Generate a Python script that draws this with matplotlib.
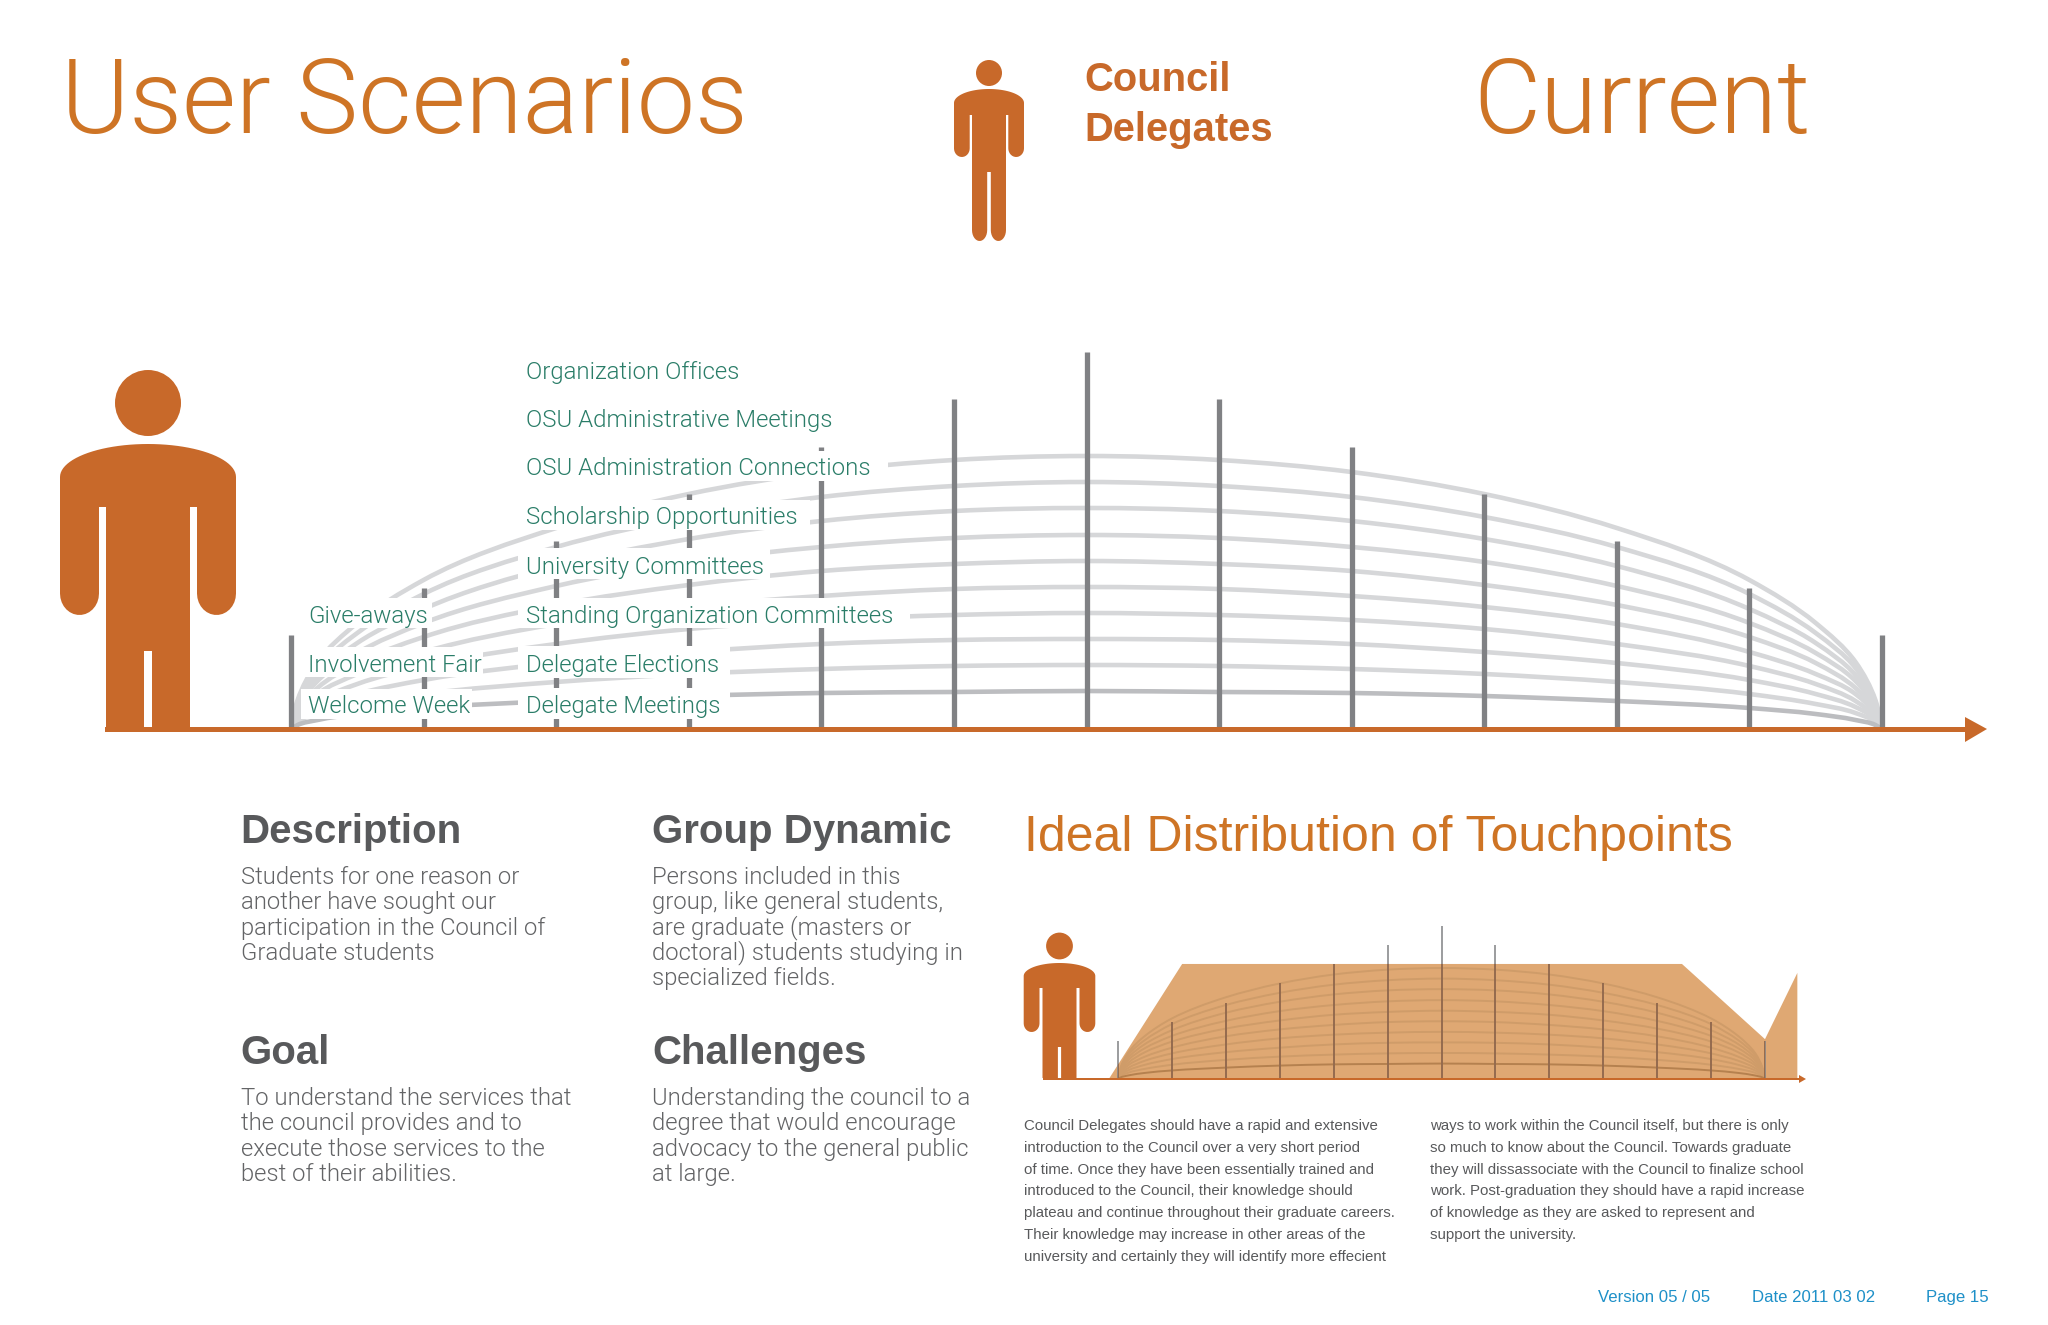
import matplotlib
matplotlib.use('Agg')
import matplotlib.pyplot as plt
import numpy as np
from matplotlib.path import Path
from matplotlib.patches import PathPatch, Polygon, Rectangle

# --- Data ---
# touchpoints 0..12, tick heights
touch_idx = list(range(13))
touch_heights = [94, 141, 188, 235, 282, 330, 377, 330, 282, 235, 188, 141, 94]

# knowledge arcs, centre (touchpoint 6) out to the right end, left side is the mirror
arc_pos = [6, 7, 8, 9, 10, 11, 11.5, 11.8, 11.95, 12]
arc_01 = [273, 269, 257, 235, 201, 149, 106, 67, 29, 0]
arc_02 = [247, 243, 232, 212, 182, 135, 96, 61, 26, 0]
arc_03 = [221, 218, 208, 190, 163, 120, 86, 54, 23, 0]
arc_04 = [194, 191, 182, 167, 143, 106, 76, 48, 21, 0]
arc_05 = [168, 165, 158, 144, 124, 92, 66, 41, 18, 0]
arc_06 = [142, 140, 133, 122, 105, 77, 55, 35, 15, 0]
arc_07 = [116, 114, 109, 100, 85, 63, 45, 28, 12, 0]
arc_08 = [90, 89, 85, 77, 66, 49, 35, 22, 10, 0]
arc_09 = [64, 63, 60, 55, 47, 35, 25, 16, 7, 0]
arc_10 = [38, 37, 36, 33, 28, 21, 15, 9, 4, 0]
arcs = [arc_01, arc_02, arc_03, arc_04, arc_05, arc_06, arc_07, arc_08, arc_09, arc_10]

# ideal distribution outline in the small chart
ideal_x = [-0.17, 1.19, 10.46, 12, 12.6, 12.6]
ideal_h = [0, 283, 283, 98, 261, 0]

left_labels = ['Give-aways', 'Involvement Fair', 'Welcome Week']
right_labels = ['Organization Offices', 'OSU Administrative Meetings',
                'OSU Administration Connections', 'Scholarship Opportunities',
                'University Committees', 'Standing Organization Committees',
                'Delegate Elections', 'Delegate Meetings']

description = ['Students for one reason or', 'another have sought our',
               'participation in the Council of', 'Graduate students']
group_dynamic = ['Persons included in this', 'group, like general students,',
                 'are graduate (masters or', 'doctoral) students studying in',
                 'specialized fields.']
goal = ['To understand the services that', 'the council provides and to',
        'execute those services to the', 'best of their abilities.']
challenges = ['Understanding the council to a', 'degree that would encourage',
              'advocacy to the general public', 'at large.']
para_left = ['Council Delegates should have a rapid and extensive',
             'introduction to the Council over a very short period',
             'of time. Once they have been essentially trained and',
             'introduced to the Council, their knowledge should',
             'plateau and continue throughout their graduate careers.',
             'Their knowledge may increase in other areas of the',
             'university and certainly they will identify more effecient']
para_right = ['ways to work within the Council itself, but there is only',
              'so much to know about the Council. Towards graduate',
              'they will dissassociate with the Council to finalize school',
              'work. Post-graduation they should have a rapid increase',
              'of knowledge as they are asked to represent and',
              'support the university.']

# --- Style ---
ORANGE = '#C8692A'
TITLE = '#CE7425'
GREEN = '#2A7D68'
DARK = '#58595B'
BODY = '#636466'
BLUE = '#1E90C8'
TICK = '#808184'
ARC = '#D6D7D9'
ARC_LOW = '#BCBDC0'
LIGHT = 'Roboto'
REG = 'Liberation Sans'

W, H = 2048, 1325
fig = plt.figure(figsize=(W / 100, H / 100), dpi=100, facecolor='white')


def chart_axes(x0, x1, base, px_per_unit):
    # axes with x = touchpoint index and y = height, placed by pixel box
    top = base - 400 * px_per_unit
    a = fig.add_axes([x0 / W, 1 - base / H, (x1 - x0) / W, (base - top) / H], zorder=1)
    a.set_xlim(0, 12)
    a.set_ylim(0, 400)
    a.axis('off')
    return a


def smooth_path(xs, ys, sx):
    # bezier through the read points (chord length catmull-rom)
    p = np.column_stack([np.array(xs) * sx, ys], )
    t = np.r_[0, np.cumsum(np.hypot(*np.diff(p, axis=0).T))]
    m = np.gradient(p, t, axis=0)
    verts = [p[0]]
    codes = [Path.MOVETO]
    for i in range(len(p) - 1):
        d = (t[i + 1] - t[i]) / 3
        verts += [p[i] + m[i] * d, p[i + 1] - m[i + 1] * d, p[i + 1]]
        codes += [Path.CURVE4] * 3
    verts = np.array(verts)
    verts[:, 0] /= sx
    return Path(verts, codes)


def draw_arcs(a, lw, color, low_color, sx):
    for n, h in enumerate(arcs):
        xs = [12 - q for q in arc_pos[::-1]] + arc_pos[1:]
        ys = h[::-1] + h[1:]
        col = low_color if n == len(arcs) - 1 else color
        a.add_patch(PathPatch(smooth_path(xs, ys, sx), fill=False, ec=col, lw=lw,
                              capstyle='butt', clip_on=False, zorder=2))


def draw_person(a, cx, head_y, head_r, sh_top, sh_y, half_w, torso, arm_w, gap_top,
                arm_bot, leg_gap, leg_top, base, leg_round=0):
    a.add_patch(plt.Circle((cx, head_y), head_r, fc=ORANGE, ec='none', zorder=4))
    th = np.linspace(np.pi / 2, 0, 24)
    pts = [(half_w * np.cos(q), sh_y - (sh_y - sh_top) * np.sin(q)) for q in th]
    r = arm_w / 2
    th = np.linspace(0, np.pi, 16)
    pts += [(half_w - r + r * np.cos(q), arm_bot - r * 1.1 + r * 1.1 * np.sin(q)) for q in th]
    pts += [(half_w - arm_w, gap_top), (torso, gap_top)]
    if leg_round:
        lr = (torso - leg_gap) / 2
        pts += [(leg_gap + lr + lr * np.cos(q), base - leg_round + leg_round * np.sin(q)) for q in th]
    else:
        pts += [(torso, base), (leg_gap, base)]
    pts += [(leg_gap, leg_top), (0, leg_top)]
    right = np.array(pts)
    left = right[::-1] * [-1, 1]
    a.add_patch(Polygon(np.vstack([right, left]) + [cx, 0], closed=True, fc=ORANGE, ec='none', zorder=4))


# --- Main chart ---
main = chart_axes(291, 1882, 729, 1.0)
sx_main = 132.6
draw_arcs(main, 3.3, ARC, ARC_LOW, sx_main)
main.vlines(touch_idx, 0, touch_heights, color=TICK, lw=3.8, zorder=3, clip_on=False)

# --- Small chart ---
small = chart_axes(1118, 1765, 1079, 0.4065)
tan = Polygon(np.column_stack([ideal_x, ideal_h]), closed=True, fc='#DFA873', ec='none',
              clip_on=False, zorder=1)
small.add_patch(tan)
draw_arcs(small, 1.4, '#CF9C69', '#B5814F', 53.9)
small.vlines(touch_idx, 0, touch_heights, color=TICK, lw=1.1, zorder=3, clip_on=False)
inner = small.vlines(touch_idx, 0, touch_heights, color='#96694A', lw=1.3, zorder=3.5)
inner.set_clip_path(tan)

# --- Overlay in picture pixels: masks, axis lines, figures and text ---
ax = fig.add_axes([0, 0, 1, 1], zorder=2)
ax.set_xlim(0, W)
ax.set_ylim(H, 0)
ax.axis('off')
ax.patch.set_alpha(0)

masks = [(518, 451, 888, 481), (518, 500, 810, 530), (518, 548, 770, 579),
         (518, 598, 910, 628), (518, 646, 730, 678), (518, 688, 730, 719),
         (300, 598, 432, 628), (300, 647, 483, 677), (301, 689, 472, 719)]
for x0, y0, x1, y1 in masks:
    ax.add_patch(Rectangle((x0, y0), x1 - x0, y1 - y0, fc='white', ec='none', zorder=1))

ax.add_patch(Rectangle((105, 726.5), 1860, 5, fc=ORANGE, ec='none', zorder=2))
ax.add_patch(Polygon([(1965, 717), (1965, 742), (1987, 729)], fc=ORANGE, ec='none', zorder=2))
ax.add_patch(Rectangle((1043, 1078), 756, 2, fc=ORANGE, ec='none', zorder=2))
ax.add_patch(Polygon([(1799, 1075), (1799, 1083), (1806, 1079)], fc=ORANGE, ec='none', zorder=2))

draw_person(ax, 148, 403, 33, 444, 477, 88, 42, 39, 507, 615, 4, 651, 727)
draw_person(ax, 1059.5, 946, 13.4, 963, 976, 35.8, 17, 15.8, 988, 1032, 1.6, 1047, 1078)
draw_person(ax, 989, 73, 13, 89, 103, 35, 17, 15.7, 115, 157, 1.8, 172, 241, leg_round=11)


def put(x, y, s, size, color, family=LIGHT, weight=300):
    ax.text(x, y, s, fontsize=size, color=color, family=family, weight=weight,
            ha='left', va='baseline', zorder=5)


put(61, 133, 'User Scenarios', 75, TITLE)
put(1473, 133, 'Current', 74.5, TITLE)
put(1084, 91, 'Council', 28.8, ORANGE, REG, 'bold')
put(1084, 141, 'Delegates', 28.8, ORANGE, REG, 'bold')
put(1024, 851, 'Ideal Distribution of Touchpoints', 36, TITLE, REG, 'normal')

for s, y in zip(left_labels, [623, 672, 713]):
    put(308, y, s, 17.3, GREEN)
for s, y in zip(right_labels, [379, 427, 475, 524, 574, 623, 672, 713]):
    put(526, y, s, 17.3, GREEN)

for x, y, s in [(240, 843, 'Description'), (652, 843, 'Group Dynamic'),
                (240, 1064, 'Goal'), (652, 1064, 'Challenges')]:
    put(x, y, s, 29, DARK, REG, 'bold')

for x, y0, lines in [(241, 884, description), (652.5, 884, group_dynamic),
                     (241, 1105, goal), (652.5, 1105, challenges)]:
    for i, s in enumerate(lines):
        put(x, y0 + i * 25.3, s, 17.2, BODY)

for x, lines in [(1024, para_left), (1430.5, para_right)]:
    for i, s in enumerate(lines):
        put(x, 1130 + i * 21.8, s, 10.8, DARK, REG, 'normal')

put(1598, 1302, 'Version 05 / 05', 12.1, BLUE, REG, 'normal')
put(1752, 1302, 'Date 2011 03 02', 12.1, BLUE, REG, 'normal')
put(1926, 1302, 'Page 15', 12.1, BLUE, REG, 'normal')

fig.savefig('out.png', dpi=100)
